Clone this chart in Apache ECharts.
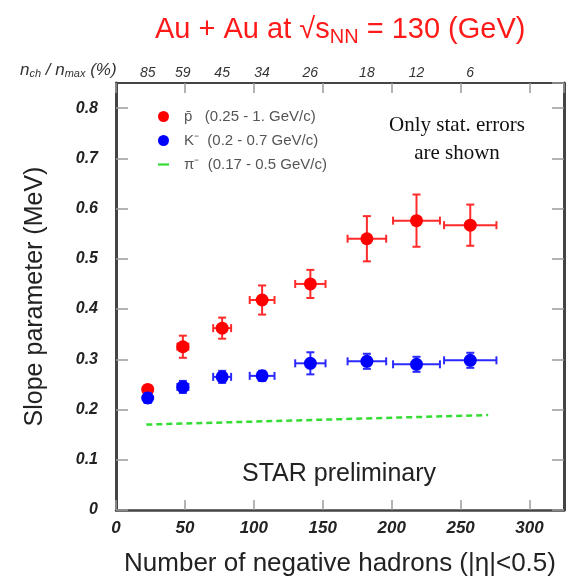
<!DOCTYPE html>
<html lang="en">
<head>
    <meta charset="UTF-8">
    <title>Slope parameter vs number of negative hadrons</title>
    <script src="https://cdn.jsdelivr.net/npm/echarts@6/dist/echarts.min.js"></script>
    <style type="text/css">
        html, body { margin: 0; padding: 0; background: #fff; }
    </style>
</head>
<body>
<div id="main" style="width:577px;height:585px;"></div>
<script type="text/javascript">
    // x = number of negative hadrons, y = slope parameter, errors are +-
    var pbarX    = [23, 48.5, 77, 106, 141, 182, 218, 257];
    var pbarY    = [0.240, 0.325, 0.362, 0.418, 0.450, 0.540, 0.576, 0.567];
    var pbarXErr = [2, 4, 6.5, 9, 11, 14, 17, 19];
    var pbarYErr = [0.008, 0.022, 0.021, 0.029, 0.028, 0.045, 0.052, 0.041];

    var kX    = [23, 48.5, 77, 106, 141, 182, 218, 257];
    var kY    = [0.223, 0.245, 0.265, 0.267, 0.292, 0.296, 0.290, 0.298];
    var kXErr = [2, 4, 6.5, 9, 11, 14, 17, 19];
    var kYErr = [0.010, 0.012, 0.012, 0.010, 0.022, 0.015, 0.015, 0.015];

    // pion slope, drawn as a dashed line
    var piX = [22, 270];
    var piY = [0.170, 0.189];

    // top axis: centrality n_ch/n_max (%) at the data positions
    var nchPos = [23, 48.5, 77, 106, 141, 182, 218, 257];
    var nchPct = ['85', '59', '45', '34', '26', '18', '12', '6'];

    var legendText = {
        'pbar': 'p\u0304   (0.25 - 1. GeV/c)',
        'kminus': 'K\u207B  (0.2 - 0.7 GeV/c)',
        'piminus': '\u03C0\u207B  (0.17 - 0.5 GeV/c)'
    };

    function zip4(a, b, c, d) {
        var out = [];
        for (var i = 0; i < a.length; i++) {
            out.push([a[i], b[i], c[i], d[i]]);
        }
        return out;
    }

    function zip2(a, b) {
        var out = [];
        for (var i = 0; i < a.length; i++) {
            out.push([a[i], b[i]]);
        }
        return out;
    }

    // error bars with caps
    function makeErrRender(color) {
        return function (params, api) {
            var x = api.value(0), y = api.value(1);
            var xe = api.value(2), ye = api.value(3);
            var c = api.coord([x, y]);
            var l = api.coord([x - xe, y]);
            var r = api.coord([x + xe, y]);
            var t = api.coord([x, y + ye]);
            var b = api.coord([x, y - ye]);
            var cap = 4;
            var st = { stroke: color, lineWidth: 2 };
            var kids = [
                { type: 'line', shape: { x1: l[0], y1: c[1], x2: r[0], y2: c[1] }, style: st },
                { type: 'line', shape: { x1: c[0], y1: t[1], x2: c[0], y2: b[1] }, style: st }
            ];
            if (r[0] - l[0] > 6) {
                kids.push({ type: 'line', shape: { x1: l[0], y1: c[1] - cap, x2: l[0], y2: c[1] + cap }, style: st });
                kids.push({ type: 'line', shape: { x1: r[0], y1: c[1] - cap, x2: r[0], y2: c[1] + cap }, style: st });
            }
            if (b[1] - t[1] > 6) {
                kids.push({ type: 'line', shape: { x1: c[0] - cap, y1: t[1], x2: c[0] + cap, y2: t[1] }, style: st });
                kids.push({ type: 'line', shape: { x1: c[0] - cap, y1: b[1], x2: c[0] + cap, y2: b[1] }, style: st });
            }
            return { type: 'group', children: kids };
        };
    }

    var myChart = echarts.init(document.getElementById('main'));

    var tickStyle = { color: '#9a9a9a', width: 1.5 };

    var option = {
        animation: false,
        title: {
            text: '{a|Au + Au at \u221As}{b|NN}{a| = 130 (GeV)}',
            left: 150,
            top: 8,
            textStyle: {
                fontWeight: 'normal',
                rich: {
                    a: { fontFamily: 'Liberation Sans, Arial', fontSize: 29, fontWeight: 'normal', color: '#ff1a1a' },
                    b: { fontFamily: 'Liberation Sans, Arial', fontSize: 20, fontWeight: 'normal', color: '#ff1a1a', padding: [14, 0, 0, 0] }
                }
            }
        },
        grid: { left: 116, right: 13, top: 83, bottom: 75 },
        legend: {
            orient: 'vertical',
            left: 153,
            top: 104,
            itemWidth: 11,
            itemHeight: 11,
            itemGap: 9,
            formatter: function (name) {
                return '{g|}' + legendText[name];
            },
            textStyle: {
                fontFamily: 'Liberation Sans, Arial',
                fontSize: 15,
                color: '#555',
                rich: { g: { width: 10 } }
            },
            data: [
                { name: 'pbar' },
                { name: 'kminus' },
                {
                    name: 'piminus',
                    icon: 'path://M0,0h10v2h-10z',
                    itemStyle: { color: '#33dd33' }
                }
            ]
        },
        xAxis: [
            {
                type: 'value',
                min: 0,
                max: 325,
                interval: 50,
                position: 'bottom',
                name: 'Number of negative hadrons (|\u03B7|<0.5)',
                nameLocation: 'middle',
                nameGap: 41,
                nameTextStyle: { fontFamily: 'Liberation Sans, Arial', fontSize: 26, color: '#222' },
                splitLine: { show: false },
                axisLine: { onZero: false, lineStyle: { color: '#444', width: 2.5 } },
                axisTick: { inside: true, length: 10, lineStyle: tickStyle },
                axisLabel: {
                    showMaxLabel: false,
                    margin: 10,
                    fontFamily: 'Liberation Sans, Arial',
                    fontSize: 17,
                    fontStyle: 'italic',
                    fontWeight: 'bold',
                    color: '#222'
                }
            },
            {
                type: 'value',
                min: 0,
                max: 325,
                interval: 50,
                position: 'top',
                splitLine: { show: false },
                axisLine: { onZero: false, lineStyle: { color: '#444', width: 2 } },
                axisTick: { inside: true, length: 10, lineStyle: tickStyle },
                axisLabel: {
                    customValues: nchPos,
                    margin: 3,
                    formatter: function (v) {
                        var i = nchPos.indexOf(v);
                        return i >= 0 ? nchPct[i] : '';
                    },
                    fontFamily: 'Liberation Sans, Arial',
                    fontSize: 14,
                    fontStyle: 'italic',
                    color: '#333'
                }
            }
        ],
        yAxis: [
            {
                type: 'value',
                min: 0,
                max: 0.85,
                interval: 0.1,
                position: 'left',
                name: 'Slope parameter (MeV)',
                nameLocation: 'middle',
                nameGap: 68,
                nameTextStyle: { fontFamily: 'Liberation Sans, Arial', fontSize: 25, color: '#222' },
                splitLine: { show: false },
                axisLine: { onZero: false, lineStyle: { color: '#444', width: 3 } },
                axisTick: { inside: true, length: 12, lineStyle: tickStyle },
                axisLabel: {
                    showMaxLabel: false,
                    margin: 18,
                    fontFamily: 'Liberation Sans, Arial',
                    fontSize: 16,
                    fontStyle: 'italic',
                    fontWeight: 'bold',
                    color: '#222'
                }
            },
            {
                type: 'value',
                min: 0,
                max: 0.85,
                interval: 0.1,
                position: 'right',
                splitLine: { show: false },
                axisLine: { onZero: false, lineStyle: { color: '#444', width: 3 } },
                axisTick: { inside: true, length: 12, lineStyle: tickStyle },
                axisLabel: { show: false }
            }
        ],
        graphic: [
            {
                type: 'text',
                left: 20,
                top: 62,
                style: {
                    text: '{i|n}{s|ch}{i| / n}{s|max}{i| (%)}',
                    rich: {
                        i: { fontFamily: 'Liberation Sans, Arial', fontSize: 17, fontStyle: 'italic', fill: '#333' },
                        s: { fontFamily: 'Liberation Sans, Arial', fontSize: 11, fontStyle: 'italic', fill: '#333', padding: [7, 0, 0, 0] }
                    }
                }
            },
            {
                type: 'text',
                x: 457,
                y: 111,
                style: {
                    text: 'Only stat. errors\nare shown',
                    align: 'center',
                    fontFamily: 'Liberation Serif, Times New Roman',
                    fontSize: 21,
                    lineHeight: 28,
                    fill: '#111'
                }
            },
            {
                type: 'text',
                x: 339,
                y: 462,
                style: {
                    text: 'STAR preliminary',
                    align: 'center',
                    fontFamily: 'Liberation Sans, Arial',
                    fontSize: 25,
                    fill: '#222'
                }
            }
        ],
        series: [
            {
                type: 'custom',
                renderItem: makeErrRender('#ff2a2a'),
                data: zip4(pbarX, pbarY, pbarXErr, pbarYErr),
                z: 2
            },
            {
                name: 'pbar',
                type: 'scatter',
                symbol: 'circle',
                symbolSize: 13,
                itemStyle: { color: '#ff0000', opacity: 1 },
                data: zip2(pbarX, pbarY),
                z: 3
            },
            {
                type: 'custom',
                renderItem: makeErrRender('#2a2aff'),
                data: zip4(kX, kY, kXErr, kYErr),
                z: 4
            },
            {
                name: 'kminus',
                type: 'scatter',
                symbol: 'circle',
                symbolSize: 13,
                itemStyle: { color: '#0000ff', opacity: 1 },
                data: zip2(kX, kY),
                z: 5
            },
            {
                name: 'piminus',
                type: 'line',
                symbol: 'none',
                lineStyle: { color: '#33dd33', width: 2.5, type: [6, 4] },
                itemStyle: { color: '#33dd33' },
                data: zip2(piX, piY),
                z: 2
            }
        ]
    };

    myChart.setOption(option);
</script>
</body>
</html>
